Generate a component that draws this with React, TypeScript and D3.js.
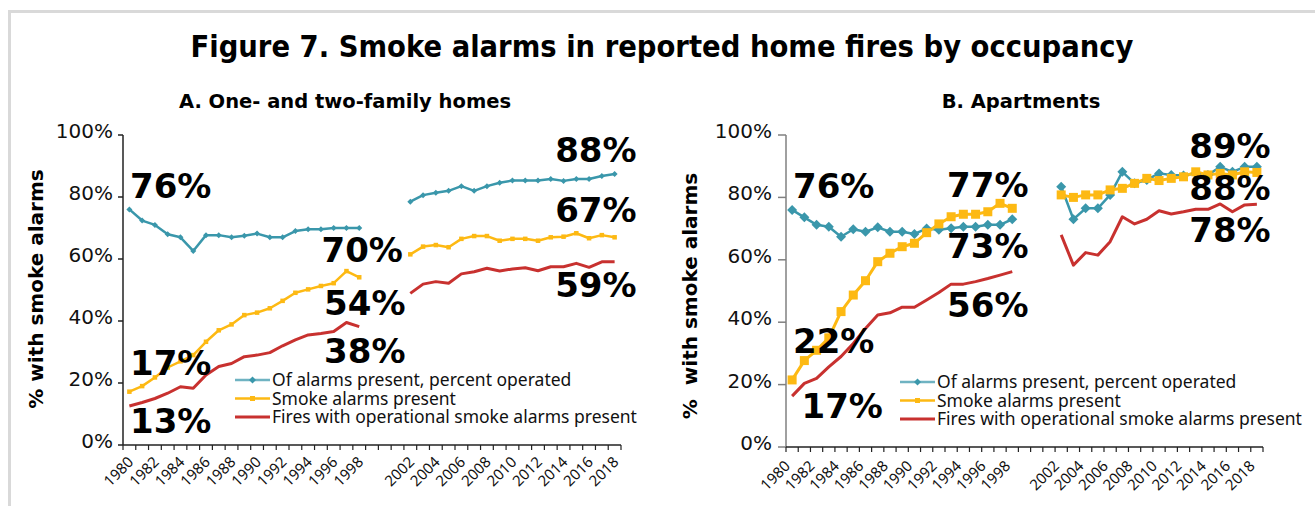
import React from "react";
import * as d3 from "d3";

const years: number[] = d3.range(1980, 2019);
const tickYears = [1980,1982,1984,1986,1988,1990,1992,1994,1996,1998,2002,2004,2006,2008,2010,2012,2014,2016,2018];
const yTicks = [0, 20, 40, 60, 80, 100];

const GAP = [null, null, null];
// One- and two-family homes
const homesOperated1 = [76, 72.4, 71, 68, 67, 62.6, 67.7, 67.7, 67, 67.5, 68.2, 67, 67, 69, 69.6, 69.6, 70, 70, 70];
const homesOperated2 = [78.5, 80.6, 81.4, 82, 83.5, 82, 83.5, 84.6, 85.3, 85.3, 85.3, 85.8, 85.2, 85.8, 85.8, 86.8, 87.4];
const homesPresent1 = [17.2, 19, 21.8, 25, 27, 29, 33.3, 37, 38.9, 41.9, 42.7, 44.1, 46.5, 49.1, 50.2, 51.3, 52.2, 56.1, 54.1];
const homesPresent2 = [61.5, 64, 64.5, 63.8, 66.5, 67.4, 67.4, 65.9, 66.5, 66.5, 65.9, 67, 67.2, 68.3, 66.7, 67.7, 67];
const homesOperational1 = [12.6, 13.7, 15, 16.7, 18.8, 18.3, 22.6, 25.3, 26.3, 28.5, 29, 29.8, 32, 33.9, 35.5, 36, 36.6, 39.5, 38.2];
const homesOperational2 = [48.9, 51.9, 52.7, 52.2, 55.2, 55.9, 57, 56.1, 56.8, 57.2, 56.2, 57.5, 57.5, 58.6, 57.3, 59.1, 59.1];
// Apartments
const aptOperated1 = [76, 73.6, 71.2, 70.6, 67.4, 69.8, 69, 70.4, 69, 69, 68.3, 70, 69.6, 70.1, 70.6, 70.6, 71.2, 71.2, 73];
const aptOperated2 = [83.4, 73, 76.5, 76.5, 80.8, 88.2, 84.5, 85.6, 87.7, 87.2, 87, 87.7, 87.2, 89.8, 88.2, 89.8, 89.8];
const aptPresent1 = [21.5, 27.7, 31, 35, 43.4, 48.7, 53.3, 59.4, 62.1, 64.2, 65.3, 68.7, 71.5, 73.8, 74.6, 74.6, 75.4, 78.1, 76.5];
const aptPresent2 = [80.8, 80, 80.8, 80.8, 82.4, 82.9, 84.5, 86.1, 85.4, 86.1, 86.6, 88.2, 87.2, 87.7, 87.2, 88.2, 88];
const aptOperational1 = [16.3, 20.4, 22, 25.7, 29, 33.2, 38, 42.3, 43, 44.8, 44.8, 47.1, 49.5, 52.2, 52.2, 53, 54, 55.1, 56.2];
const aptOperational2 = [68, 58.3, 62.3, 61.5, 65.8, 73.8, 71.5, 73, 75.7, 74.7, 75.4, 76.2, 76.2, 77.9, 75.4, 77.6, 77.8];

const seriesNames = [
  "Of alarms present, percent operated",
  "Smoke alarms present",
  "Fires with operational smoke alarms present",
];

// annotation labels: text, year position (fractional), value at baseline
const homesLabels = [
  { t: "76%", yr: 1980, v: 79.7 },
  { t: "17%", yr: 1980, v: 22.6 },
  { t: "13%", yr: 1980, v: 3.9 },
  { t: "70%", yr: 1995, v: 59 },
  { t: "54%", yr: 1995.2, v: 41.9 },
  { t: "38%", yr: 1995.2, v: 26.5 },
  { t: "88%", yr: 2013.3, v: 91.3 },
  { t: "67%", yr: 2013.3, v: 71.9 },
  { t: "59%", yr: 2013.3, v: 47.7 },
];
const aptLabels = [
  { t: "76%", yr: 1980, v: 79.8 },
  { t: "22%", yr: 1980, v: 30.1 },
  { t: "17%", yr: 1980.7, v: 9.3 },
  { t: "77%", yr: 1992.6, v: 80.1 },
  { t: "73%", yr: 1992.6, v: 60.6 },
  { t: "56%", yr: 1992.6, v: 41.7 },
  { t: "89%", yr: 2012.4, v: 92.6 },
  { t: "88%", yr: 2012.4, v: 79.2 },
  { t: "78%", yr: 2012.4, v: 65.7 },
];

const BLUE = "#3a97ab";
const YELLOW = "#fdb913";
const RED = "#c8312f";
const COLORS = [BLUE, YELLOW, RED];

const BOLD = "'DejaVu Sans', sans-serif";
const REG = "'DejaVu Sans', sans-serif";
const LEG = "'Noto Sans', sans-serif";

type ChartProps = {
  x0: number; x1: number; y0: number; y1: number;
  series: (number | null)[][];
  labels: { t: string; yr: number; v: number }[];
  big: boolean;
  yAxisColor: string;
  yTitle: string;
  yTitleX: number;
  yTitleY: number;
  subtitle: string;
  subX: number;
  legX: number;
  legY: number;
  tickLabelGap: number;
  tickLen: number;
  xLabDx: number;
  xLabDy: number;
};

function Chart(p: ChartProps) {
  const x = d3.scaleBand<number>().domain(years).range([p.x0, p.x1]).padding(0);
  const bw = x.bandwidth();
  const cx = (yr: number) => (x(years[0]) as number) + (yr - 1980) * bw + bw / 2;
  const y = d3.scaleLinear().domain([0, 100]).range([p.y0, p.y1]);
  const line = d3
    .line<number | null>()
    .defined((d) => d !== null)
    .x((_, i) => cx(years[i]))
    .y((d) => y(d as number));

  const diamond = (px: number, py: number, r: number) =>
    `M${px},${py - r}L${px + r},${py}L${px},${py + r}L${px - r},${py}Z`;

  const dR = p.big ? 5 : 3;
  const sS = p.big ? 9 : 4.5;
  const lw = [2.5, p.big ? 3 : 2.5, 3];

  return (
    <g>
      <text x={p.subX} y={108} textAnchor="middle" fontFamily={BOLD} fontWeight="bold" fontSize={19.5}>
        {p.subtitle}
      </text>
      <text
        transform={`translate(${p.yTitleX},${p.yTitleY}) rotate(-90)`}
        textAnchor="middle"
        dominantBaseline="central"
        fontFamily={BOLD}
        fontWeight="bold"
        fontSize={20}
        xmlSpace="preserve"
      >
        {p.yTitle}
      </text>
      {/* y axis */}
      <line x1={p.x0} x2={p.x0} y1={p.y1} y2={p.y0} stroke={p.yAxisColor} strokeWidth={1.5} />
      {yTicks.map((t) => (
        <g key={t}>
          <line x1={p.x0 - p.tickLen} x2={p.x0} y1={y(t)} y2={y(t)} stroke={p.yAxisColor} strokeWidth={1.5} />
          <text x={p.x0 - p.tickLabelGap} y={y(t) + 3} textAnchor="end" fontFamily={REG} fontSize={20} fill="#111">
            {t + "%"}
          </text>
        </g>
      ))}
      {/* x axis */}
      <line x1={p.x0} x2={p.x1} y1={p.y0} y2={p.y0} stroke="#222" strokeWidth={1.5} />
      {d3.range(years.length + 1).map((i) => {
        const xx = p.x0 + i * bw;
        return <line key={i} x1={xx} x2={xx} y1={p.y0} y2={p.y0 + 5} stroke="#222" strokeWidth={1.2} />;
      })}
      {tickYears.map((yr) => (
        <text
          key={yr}
          transform={`translate(${cx(yr) + p.xLabDx},${p.y0 + p.xLabDy}) rotate(-45)`}
          textAnchor="end"
          fontFamily={LEG}
          fontSize={15}
          fill="#111"
        >
          {yr}
        </text>
      ))}
      {/* lines */}
      {p.series.map((s, si) => (
        <path key={si} d={line(s) || ""} fill="none" stroke={COLORS[si]} strokeWidth={lw[si]} strokeLinejoin="round" />
      ))}
      {/* markers */}
      {p.series[0].map((v, i) =>
        v === null ? null : <path key={"d" + i} d={diamond(cx(years[i]), y(v), dR)} fill={BLUE} />
      )}
      {p.series[1].map((v, i) =>
        v === null ? null : (
          <rect key={"s" + i} x={cx(years[i]) - sS / 2} y={y(v) - sS / 2} width={sS} height={sS} fill={YELLOW} />
        )
      )}
      {/* legend */}
      {seriesNames.map((n, i) => {
        const ly = p.legY + i * 18.5;
        return (
          <g key={n}>
            <line x1={p.legX} x2={p.legX + 35} y1={ly} y2={ly} stroke={i === 0 ? "#6fb3c2" : COLORS[i]} strokeWidth={i === 2 ? 3 : 2.5} />
            {i === 0 && <path d={diamond(p.legX + 17.5, ly, 3.5)} fill={BLUE} />}
            {i === 1 && <rect x={p.legX + 15} y={ly - 2.5} width={5} height={5} fill={YELLOW} />}
            <text x={p.legX + 37} y={ly + 6} fontFamily={LEG} fontSize={17.5} fill="#111">
              {n}
            </text>
          </g>
        );
      })}
      {/* annotations */}
      {p.labels.map((l, i) => (
        <text key={i} x={cx(l.yr) - bw / 2 + 7} y={y(l.v)} fontFamily={BOLD} fontWeight="bold" fontSize={34} fill="#000">
          {l.t}
        </text>
      ))}
    </g>
  );
}

export default function App() {
  return (
    <svg width={1315} height={506} style={{ position: "absolute", left: 0, top: 0, background: "#fff" }}>
      <rect x={0} y={0} width={1315} height={506} fill="#fff" />
      <path d="M9.5,506 V11.5 H1315" fill="none" stroke="#d9d9d9" strokeWidth={3} />
      <text
        x={662}
        y={57}
        textAnchor="middle"
        fontFamily={BOLD}
        fontWeight="bold"
        fontSize={31}
        textLength={943}
        lengthAdjust="spacingAndGlyphs"
      >
        Figure 7. Smoke alarms in reported home fires by occupancy
      </text>
      <Chart
        x0={123} x1={621} y0={445} y1={135}
        series={[
          [...homesOperated1, ...GAP, ...homesOperated2],
          [...homesPresent1, ...GAP, ...homesPresent2],
          [...homesOperational1, ...GAP, ...homesOperational2],
        ]}
        labels={homesLabels}
        big={false}
        yAxisColor="#222"
        yTitle="% with smoke alarms"
        yTitleX={36}
        yTitleY={289}
        subtitle="A. One- and two-family homes"
        subX={345}
        legX={235}
        legY={380}
        tickLabelGap={10}
        tickLen={5}
        xLabDx={5}
        xLabDy={18}
      />
      <Chart
        x0={786} x1={1263} y0={447} y1={135}
        series={[
          [...aptOperated1, ...GAP, ...aptOperated2],
          [...aptPresent1, ...GAP, ...aptPresent2],
          [...aptOperational1, ...GAP, ...aptOperational2],
        ]}
        labels={aptLabels}
        big={true}
        yAxisColor="#808080"
        yTitle="%  with smoke alarms"
        yTitleX={690}
        yTitleY={296}
        subtitle="B. Apartments"
        subX={1021}
        legX={900}
        legY={382}
        tickLabelGap={14}
        tickLen={8}
        xLabDx={-1}
        xLabDy={20}
      />
    </svg>
  );
}
